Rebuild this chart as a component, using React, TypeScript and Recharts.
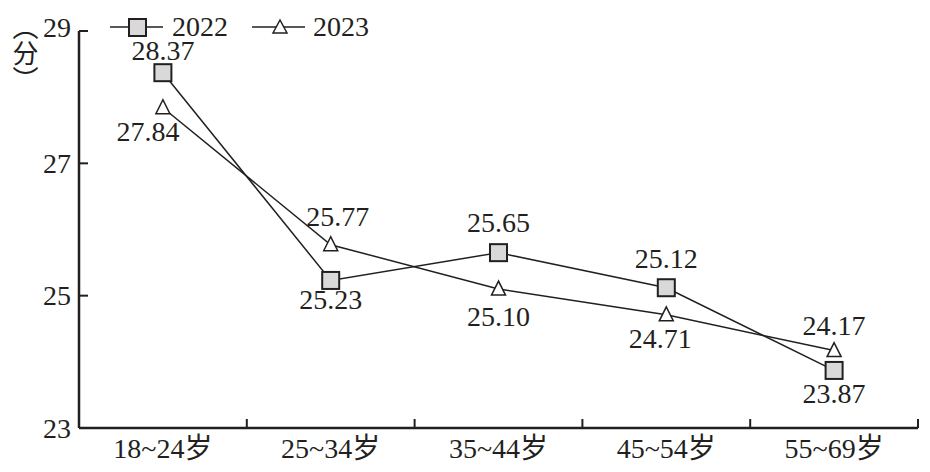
import { CartesianGrid, LabelList, Line, LineChart, XAxis, YAxis } from "recharts";

const ageGroups = ["18~24岁", "25~34岁", "35~44岁", "45~54岁", "55~69岁"];
const scores2022 = [28.37, 25.23, 25.65, 25.12, 23.87];
const scores2023 = [27.84, 25.77, 25.1, 24.71, 24.17];
const yTicks = [23, 25, 27, 29];

const data = ageGroups.map((group, i) => ({
  group,
  y2022: scores2022[i],
  y2023: scores2023[i],
}));

const FONT = "'Liberation Serif', 'Noto Sans CJK SC', serif";
const INK = "#231f20";
const AXIS_X = 79;
const AXIS_Y = 428;
const BAND = (918 - 79) / 5;

// label placement relative to each point [dx, dy]
const offsets2022 = [
  [0, -22],
  [0, 19],
  [0, -30],
  [0, -29],
  [0, 23],
];
const offsets2023 = [
  [-15, 24],
  [7, -28],
  [0, 27],
  [-6, 24],
  [0, -25],
];

function SquareDot(props: any) {
  const { cx, cy } = props;
  if (cx == null || cy == null) return null;
  return (
    <rect x={cx - 8.5} y={cy - 8.5} width={17} height={17} fill="#d9d9d9" stroke={INK} strokeWidth={2} />
  );
}

function TriangleDot(props: any) {
  const { cx, cy } = props;
  if (cx == null || cy == null) return null;
  return (
    <polygon
      points={`${cx},${cy - 8} ${cx - 7},${cy + 6} ${cx + 7},${cy + 6}`}
      fill="#fff"
      stroke={INK}
      strokeWidth={1.5}
    />
  );
}

function makeLabel(offsets: number[][]) {
  return (props: any) => {
    const { x, y, value, index } = props;
    const [dx, dy] = offsets[index];
    return (
      <text
        x={x + dx}
        y={y + dy}
        textAnchor="middle"
        dominantBaseline="central"
        fontFamily={FONT}
        fontSize={28}
        fill={INK}
      >
        {Number(value).toFixed(2)}
      </text>
    );
  };
}

function YTick(props: any) {
  const { y, payload } = props;
  return (
    <g>
      <line x1={AXIS_X} x2={AXIS_X + 9} y1={y} y2={y} stroke={INK} strokeWidth={2} />
      <text
        x={71}
        y={payload.value === 29 ? y - 4 : y}
        textAnchor="end"
        dominantBaseline="central"
        fontFamily={FONT}
        fontSize={28}
        fill={INK}
      >
        {payload.value}
      </text>
    </g>
  );
}

function XTick(props: any) {
  const { x, payload } = props;
  const edge = x + BAND / 2;
  return (
    <g>
      <line x1={edge} x2={edge} y1={AXIS_Y} y2={AXIS_Y - 9} stroke={INK} strokeWidth={2} />
      <text
        x={x}
        y={448}
        textAnchor="middle"
        dominantBaseline="central"
        fontFamily={FONT}
        fontSize={28}
        fill={INK}
      >
        {payload.value}
      </text>
    </g>
  );
}

function Legend() {
  return (
    <g fontFamily={FONT} fontSize={28} fill={INK}>
      <line x1={110} x2={163} y1={27} y2={27} stroke={INK} strokeWidth={1.5} />
      <rect x={129} y={19} width={17} height={17} fill="#d9d9d9" stroke={INK} strokeWidth={2} />
      <text x={172} y={26} dominantBaseline="central">2022</text>
      <line x1={252} x2={305} y1={27} y2={27} stroke={INK} strokeWidth={1.5} />
      <polygon points="280,20 273,33 287,33" fill="#fff" stroke={INK} strokeWidth={1.5} />
      <text x={313} y={26} dominantBaseline="central">2023</text>
    </g>
  );
}

export default function App() {
  return (
    <div style={{ position: "fixed", left: 0, top: 0, width: 930, height: 472, background: "#fff" }}>
      <LineChart width={930} height={472} data={data} margin={{ top: 31, right: 12, bottom: 0, left: 0 }}>
        <CartesianGrid stroke="none" />
        <XAxis
          dataKey="group"
          scale="band"
          height={44}
          axisLine={{ stroke: INK, strokeWidth: 2.5 }}
          tickLine={false}
          tick={<XTick />}
          interval={0}
        />
        <YAxis
          domain={[23, 29]}
          ticks={yTicks}
          width={79}
          axisLine={{ stroke: INK, strokeWidth: 2.5 }}
          tickLine={false}
          tick={<YTick />}
          interval={0}
        />
        <Line
          dataKey="y2022"
          stroke={INK}
          strokeWidth={1.5}
          dot={<SquareDot />}
          activeDot={false}
          isAnimationActive={false}
        >
          <LabelList dataKey="y2022" content={makeLabel(offsets2022)} />
        </Line>
        <Line
          dataKey="y2023"
          stroke={INK}
          strokeWidth={1.5}
          dot={<TriangleDot />}
          activeDot={false}
          isAnimationActive={false}
        >
          <LabelList dataKey="y2023" content={makeLabel(offsets2023)} />
        </Line>
        <Legend />
      </LineChart>
      <div
        style={{
          position: "absolute",
          left: 12,
          top: 14,
          writingMode: "vertical-rl",
          fontFamily: "'Noto Sans CJK SC', sans-serif",
          fontSize: 26,
          lineHeight: "26px",
          color: INK,
        }}
      >
        （分）
      </div>
    </div>
  );
}
